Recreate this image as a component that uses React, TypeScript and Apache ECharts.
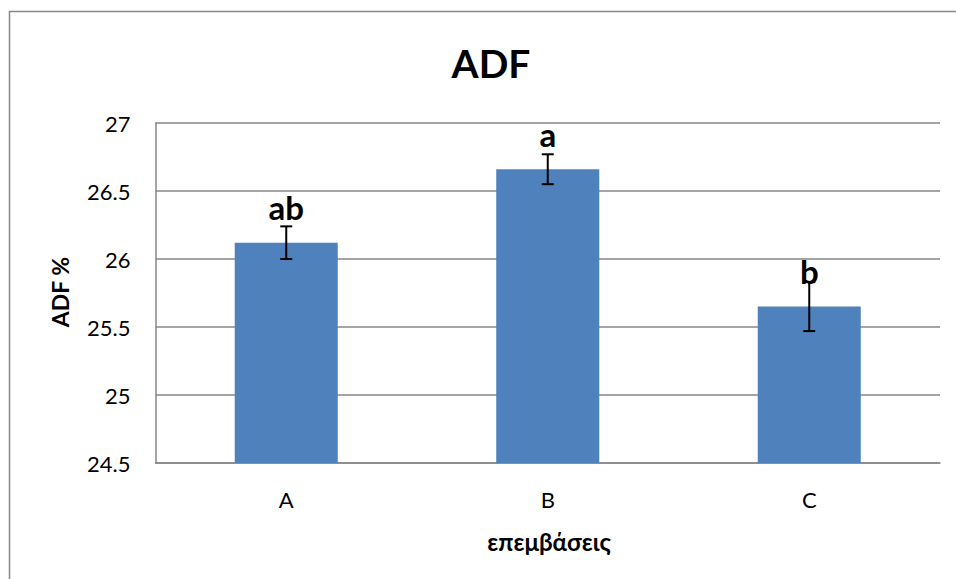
import React, { useEffect, useRef } from "react";
import * as echarts from "echarts";

// Treatments and their mean ADF content (%)
const categories = ["A", "B", "C"];
const means = [26.12, 26.66, 25.65];
// Standard errors shown as error bars
const errors = [0.12, 0.11, 0.18];
// Significance letters above each bar
const letters = ["ab", "a", "b"];
// Y-axis range and step
const yMin = 24.5;
const yMax = 27;
const yStep = 0.5;

const FONT = "Lato, 'Open Sans', sans-serif";
const GRAY = "#878787";
const BAR = "#4F81BD";

export default function App() {
  const ref = useRef<HTMLDivElement>(null);

  useEffect(() => {
    document.body.style.margin = "0";
    if (!ref.current) return;
    const chart = echarts.init(ref.current, undefined, { renderer: "svg" });

    const errData = categories.map((_, i) => [i, means[i] - errors[i], means[i] + errors[i]]);
    const letterData = categories.map((_, i) => [i, means[i]]);

    chart.setOption({
      animation: false,
      backgroundColor: "#ffffff",
      grid: { left: 155.5, top: 123, right: 16, bottom: 116, containLabel: false },
      xAxis: {
        type: "category",
        data: categories,
        axisLine: { show: true, lineStyle: { color: GRAY, width: 1.5 } },
        axisTick: { show: false },
        axisLabel: { color: "#000", fontFamily: FONT, fontSize: 22, margin: 25 },
      },
      yAxis: {
        type: "value",
        min: yMin,
        max: yMax,
        interval: yStep,
        axisLine: { show: true, lineStyle: { color: GRAY, width: 1.5 } },
        axisTick: { show: false },
        splitLine: { show: true, lineStyle: { color: GRAY, width: 1.5 } },
        axisLabel: { color: "#000", fontFamily: FONT, fontSize: 22, margin: 25 },
      },
      graphic: [
        {
          type: "rect",
          shape: { x: 9.5, y: 11.5, width: 980, height: 620 },
          style: { fill: "none", stroke: GRAY, lineWidth: 1.5 },
          silent: true,
          z: -1,
        },
        {
          type: "text",
          x: 491,
          y: 63,
          style: {
            text: "ADF",
            fontFamily: FONT,
            fontWeight: "bold",
            fontSize: 39,
            fill: "#000",
            textAlign: "center",
            textVerticalAlign: "middle",
          },
        },
        {
          type: "text",
          x: 549,
          y: 541,
          style: {
            text: "επεμβάσεις",
            fontFamily: FONT,
            fontWeight: "bold",
            fontSize: 24,
            fill: "#000",
            textAlign: "center",
            textVerticalAlign: "middle",
          },
        },
        {
          type: "text",
          x: 60,
          y: 292,
          rotation: Math.PI / 2,
          style: {
            text: "ADF %",
            fontFamily: FONT,
            fontWeight: "bold",
            fontSize: 23,
            fill: "#000",
            textAlign: "center",
            textVerticalAlign: "middle",
          },
        },
      ],
      series: [
        {
          type: "bar",
          data: means,
          barWidth: "39.4%",
          itemStyle: { color: BAR },
          z: 2,
        },
        {
          type: "custom",
          data: errData,
          encode: { x: 0, y: [1, 2] },
          z: 3,
          renderItem: (params: any, api: any) => {
            const i = api.value(0);
            const lo = api.coord([i, api.value(1)]);
            const hi = api.coord([i, api.value(2)]);
            const half = 6;
            const style = { stroke: "#000", lineWidth: 2 };
            return {
              type: "group",
              children: [
                { type: "line", shape: { x1: lo[0], y1: lo[1], x2: hi[0], y2: hi[1] }, style },
                { type: "line", shape: { x1: hi[0] - half, y1: hi[1], x2: hi[0] + half, y2: hi[1] }, style },
                { type: "line", shape: { x1: lo[0] - half, y1: lo[1], x2: lo[0] + half, y2: lo[1] }, style },
              ],
            };
          },
        },
        {
          // letters sit a fixed distance above the bar tops
          type: "custom",
          data: letterData,
          encode: { x: 0, y: 1 },
          z: 4,
          renderItem: (params: any, api: any) => {
            const i = api.value(0);
            const p = api.coord([i, api.value(1)]);
            return {
              type: "text",
              x: p[0],
              y: p[1] - 19,
              style: {
                text: letters[params.dataIndex],
                fontFamily: FONT,
                fontWeight: "bold",
                fontSize: 33,
                fill: "#000",
                textAlign: "center",
                textVerticalAlign: "bottom",
              },
            };
          },
        },
      ],
    });

    return () => chart.dispose();
  }, []);

  return <div ref={ref} style={{ width: 956, height: 579 }} />;
}
